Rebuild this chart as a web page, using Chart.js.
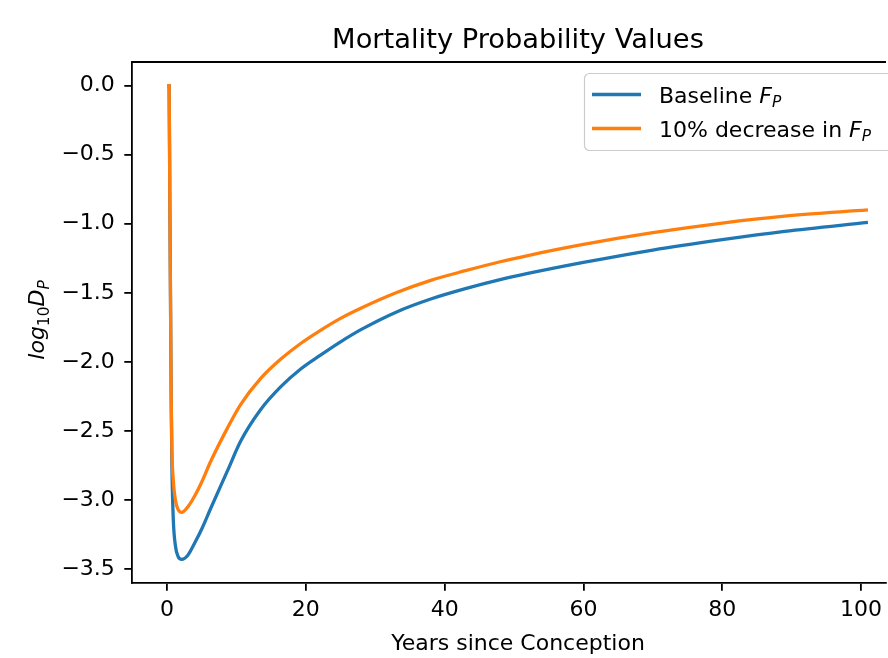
<!DOCTYPE html>
<html>
<head>
<meta charset="utf-8">
<script src="https://cdn.jsdelivr.net/npm/chart.js@4.4.1/dist/chart.umd.min.js"></script>
<style>
  html, body { margin: 0; padding: 0; background: #fff; }
  canvas { display: block; }
</style>
</head>
<body>
<canvas id="chart" width="888" height="658"></canvas>
<script>
// values
const years = [0, 0.3, 0.4, 0.5, 0.6, 0.7, 0.9, 1.2, 1.6, 2.1, 3, 4, 5, 6.3, 8.7, 10.6, 13.5, 16.4, 19.3, 22, 25, 28, 33, 38, 43, 48, 52, 60, 70, 80, 89, 101];
const baseline = [0, 0, -0.83, -1.55, -2.28, -2.75, -3.14, -3.33, -3.41, -3.43, -3.40, -3.31, -3.21, -3.06, -2.79, -2.575, -2.345, -2.18, -2.05, -1.955, -1.855, -1.765, -1.64, -1.545, -1.47, -1.405, -1.36, -1.28, -1.19, -1.115, -1.055, -0.99];
const decreased = [0, 0, -0.83, -1.55, -2.28, -2.64, -2.86, -3.0, -3.07, -3.09, -3.05, -2.97, -2.87, -2.72, -2.48, -2.31, -2.12, -1.98, -1.865, -1.775, -1.685, -1.61, -1.50, -1.41, -1.34, -1.275, -1.23, -1.15, -1.065, -0.995, -0.945, -0.90];
const xTicks = [0, 20, 40, 60, 80, 100];
const yTicks = [0, -0.5, -1, -1.5, -2, -2.5, -3, -3.5];

const titleText = 'Mortality Probability Values';
const xLabel = 'Years since Conception';
const legendLabels = ['Baseline ', '10% decrease in '];

const FONT = '"DejaVu Sans", sans-serif';
const BLUE = '#1f77b4';
const ORANGE = '#ff7f0e';
const TICK_SIZE = 22;

function toPoints(ys) {
  return years.map((x, i) => ({x: x, y: ys[i]}));
}

function fmtY(v) {
  if (Math.abs(v) < 1e-9) return '0.0';
  return (v < 0 ? '\u2212' : '') + Math.abs(v).toFixed(1);
}

// draw a run of text pieces: {t, italic, sub}
function drawParts(ctx, parts, x, y, size) {
  let cx = x;
  parts.forEach(p => {
    const s = p.sub ? size * 0.7 : size;
    ctx.font = (p.italic ? 'italic ' : '') + s + 'px ' + FONT;
    ctx.fillText(p.t, cx, y + (p.sub ? size * 0.22 : 0));
    cx += ctx.measureText(p.t).width;
  });
  return cx - x;
}

function partsWidth(ctx, parts, size) {
  let w = 0;
  parts.forEach(p => {
    const s = p.sub ? size * 0.7 : size;
    ctx.font = (p.italic ? 'italic ' : '') + s + 'px ' + FONT;
    w += ctx.measureText(p.t).width;
  });
  return w;
}

const decorPlugin = {
  id: 'decor',
  afterDraw(chart) {
    const ctx = chart.ctx;
    const area = chart.chartArea;
    const midX = 518;
    ctx.save();
    ctx.fillStyle = '#000';

    // top spine
    ctx.strokeStyle = '#000';
    ctx.lineWidth = 1.8;
    ctx.beginPath();
    ctx.moveTo(area.left - 0.9, area.top);
    ctx.lineTo(area.right, area.top);
    ctx.stroke();

    // title
    ctx.font = '27.3px ' + FONT;
    ctx.textAlign = 'center';
    ctx.textBaseline = 'alphabetic';
    ctx.fillText(titleText, midX, 48);

    // x label
    ctx.font = TICK_SIZE + 'px ' + FONT;
    ctx.fillText(xLabel, midX, 650);

    // y label, rotated
    ctx.textAlign = 'left';
    const yParts = [
      {t: 'log', italic: true},
      {t: '10', sub: true},
      {t: 'D', italic: true},
      {t: 'P', italic: true, sub: true}
    ];
    const yw = partsWidth(ctx, yParts, TICK_SIZE);
    ctx.save();
    ctx.translate(44, 320);
    ctx.rotate(-Math.PI / 2);
    drawParts(ctx, yParts, -yw / 2, 0, TICK_SIZE);
    ctx.restore();

    // legend
    const lx = 584.5, ly = 73.5;
    ctx.fillStyle = 'rgba(255,255,255,0.8)';
    ctx.strokeStyle = '#cccccc';
    ctx.lineWidth = 1.2;
    ctx.beginPath();
    ctx.roundRect(lx, ly, 340, 77, 5);
    ctx.fill();
    ctx.stroke();

    const colors = [BLUE, ORANGE];
    const rowsY = [94.5, 128.5];
    legendLabels.forEach((label, i) => {
      ctx.strokeStyle = colors[i];
      ctx.lineWidth = 3.3;
      ctx.beginPath();
      ctx.moveTo(592, rowsY[i]);
      ctx.lineTo(641, rowsY[i]);
      ctx.stroke();
      ctx.fillStyle = '#000';
      drawParts(ctx, [
        {t: label},
        {t: 'F', italic: true},
        {t: 'P', italic: true, sub: true}
      ], 659, rowsY[i] + 8, TICK_SIZE);
    });
    ctx.restore();
  }
};

const ctx = document.getElementById('chart').getContext('2d');
new Chart(ctx, {
  type: 'line',
  data: {
    datasets: [
      {
        label: 'Baseline F_P',
        data: toPoints(baseline),
        borderColor: BLUE,
        borderWidth: 3.3,
        pointRadius: 0,
        fill: false,
        cubicInterpolationMode: 'monotone',
        order: 1
      },
      {
        label: '10% decrease in F_P',
        data: toPoints(decreased),
        borderColor: ORANGE,
        borderWidth: 3.3,
        pointRadius: 0,
        fill: false,
        cubicInterpolationMode: 'monotone',
        order: 0
      }
    ]
  },
  options: {
    responsive: false,
    animation: false,
    devicePixelRatio: 1,
    layout: {padding: {left: 0, top: 62, right: 0, bottom: 0}},
    plugins: {
      legend: {display: false},
      title: {display: false},
      tooltip: {enabled: false}
    },
    scales: {
      x: {
        type: 'linear',
        min: -5.05,
        max: 103.6,
        afterFit: scale => { scale.height = 75; },
        afterBuildTicks: scale => { scale.ticks = xTicks.map(v => ({value: v})); },
        grid: {display: true, drawOnChartArea: false, drawTicks: true, tickLength: 7.7, color: '#000', lineWidth: 1.8},
        border: {display: true, color: '#000', width: 1.8},
        ticks: {
          color: '#000',
          font: {family: FONT, size: TICK_SIZE},
          padding: 6,
          maxRotation: 0,
          callback: v => String(v)
        }
      },
      y: {
        type: 'linear',
        min: -3.6015,
        max: 0.1715,
        afterFit: scale => { scale.width = 132; },
        afterBuildTicks: scale => { scale.ticks = yTicks.map(v => ({value: v})); },
        grid: {display: true, drawOnChartArea: false, drawTicks: true, tickLength: 7.7, color: '#000', lineWidth: 1.8},
        border: {display: true, color: '#000', width: 1.8},
        ticks: {
          color: '#000',
          font: {family: FONT, size: TICK_SIZE},
          padding: 9.5,
          callback: v => fmtY(v)
        }
      }
    }
  },
  plugins: [decorPlugin]
});
</script>
</body>
</html>
